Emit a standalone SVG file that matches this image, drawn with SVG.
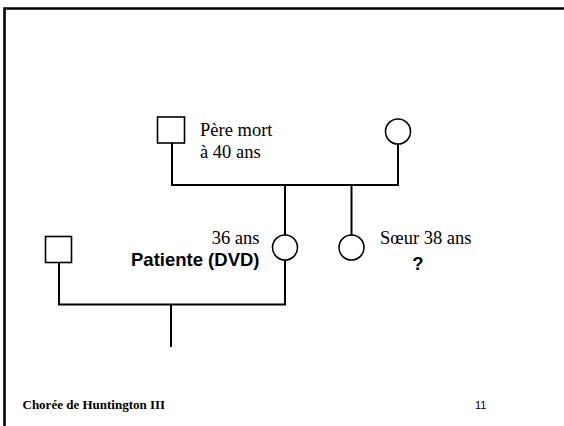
<svg xmlns="http://www.w3.org/2000/svg" width="564" height="426" viewBox="0 0 564 426">
<style>
.ln{stroke:#000;stroke-width:2;fill:none}
.sym{stroke:#000;stroke-width:1.6;fill:#fff}
.serif{font-family:"Liberation Serif","Times New Roman",serif;font-size:18.5px;fill:#000}
.bsans{font-family:"Liberation Sans",Arial,sans-serif;font-weight:bold;font-size:18.5px;fill:#000}
</style>
<rect width="564" height="426" fill="#fff"/>
<path d="M4.5,426 V8.5 H564" fill="none" stroke="#000" stroke-width="2.6"/>
<g id="connectors">
<path class="ln" d="M172,143 V185 M398,144 V185 M171,185 H399 M285,185 V235 M351.5,185 V235"/>
<path class="ln" d="M59,262 V304.5 M285,260 V304.5 M58,304.5 H286 M171,304.5 V347"/>
</g>
<g id="pere">
<rect class="sym" x="157.5" y="117" width="27" height="26"/>
<text class="serif" x="200" y="136">Père mort</text>
<text class="serif" x="200" y="158">à 40 ans</text>
</g>
<g id="mere">
<circle class="sym" cx="398" cy="131.5" r="12.5"/>
</g>
<g id="patiente">
<circle class="sym" cx="285" cy="247.5" r="12.5"/>
<text class="serif" x="259.5" y="243.5" text-anchor="end">36 ans</text>
<text class="bsans" x="259.5" y="266" text-anchor="end">Patiente (DVD)</text>
</g>
<g id="soeur">
<circle class="sym" cx="351.5" cy="247.5" r="12.5"/>
<text class="serif" x="380" y="243.5">Sœur 38 ans</text>
<text class="bsans" x="418" y="270" text-anchor="middle">?</text>
</g>
<g id="conjoint">
<rect class="sym" x="45.5" y="236.5" width="26" height="26"/>
</g>
<text x="22.5" y="409" font-family="'Liberation Serif','Times New Roman',serif" font-weight="bold" font-size="13">Chorée de Huntington III</text>
<text x="475" y="409" font-family="'Liberation Sans',Arial,sans-serif" font-size="11">11</text>
</svg>
